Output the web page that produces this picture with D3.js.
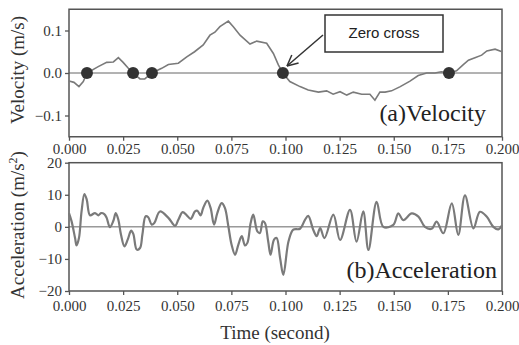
<!DOCTYPE html>
<html><head><meta charset="utf-8">
<script src="https://cdn.jsdelivr.net/npm/d3@7/dist/d3.min.js"></script>
<style>body{margin:0;background:#fff}svg{display:block}</style>
</head><body>
<svg id="c" width="519" height="345"></svg>
<script>
const xTicks = [0.000, 0.025, 0.050, 0.075, 0.100, 0.125, 0.150, 0.175, 0.200];
const vTicks = [-0.1, 0.0, 0.1];
const aTicks = [-20, -10, 0, 10, 20];

const timeV = [0,0.0023,0.0046,0.0066,0.0083,0.0135,0.0174,0.0205,0.0228,0.025,0.0274,0.0296,0.0328,0.035,0.0383,0.0428,0.0459,0.0505,0.0544,0.058,0.062,0.0651,0.0674,0.0697,0.0736,0.0759,0.079,0.0836,0.0867,0.0913,0.0944,0.0967,0.0988,0.102,0.1067,0.1105,0.1152,0.119,0.122,0.1252,0.1283,0.1313,0.1352,0.139,0.1413,0.1436,0.146,0.149,0.153,0.1575,0.1613,0.1652,0.169,0.172,0.1755,0.179,0.182,0.1845,0.1875,0.1906,0.193,0.1968,0.2];
const velocity = [-0.019,-0.022,-0.032,-0.02,0,0.015,0.025,0.026,0.036,0.025,0.011,0,-0.014,-0.014,0,0.011,0.02,0.023,0.038,0.05,0.066,0.089,0.096,0.109,0.122,0.109,0.089,0.068,0.075,0.07,0.046,0.019,0,-0.02,-0.032,-0.04,-0.045,-0.042,-0.05,-0.044,-0.052,-0.045,-0.05,-0.05,-0.064,-0.045,-0.045,-0.042,-0.032,-0.019,-0.006,0,0,0.003,0,0.005,0.019,0.03,0.036,0.042,0.052,0.056,0.05];

const timeA = [0,0.0012,0.0028,0.0035,0.0046,0.0058,0.0071,0.0082,0.0097,0.012,0.0136,0.0148,0.0163,0.0174,0.0189,0.0205,0.0216,0.0228,0.024,0.0256,0.0271,0.0287,0.0297,0.0313,0.0328,0.0339,0.0354,0.0366,0.0382,0.0394,0.042,0.0459,0.049,0.0505,0.0525,0.0544,0.0562,0.0582,0.0593,0.0608,0.062,0.0639,0.0654,0.067,0.0685,0.0705,0.072,0.0736,0.0751,0.0767,0.0782,0.0798,0.0813,0.0824,0.0839,0.0851,0.087,0.0882,0.0895,0.0905,0.092,0.0931,0.0947,0.0959,0.0975,0.099,0.1014,0.1036,0.1067,0.109,0.1105,0.1128,0.1144,0.116,0.118,0.1221,0.1252,0.1298,0.1328,0.1359,0.1383,0.1421,0.1452,0.1498,0.1521,0.1544,0.1583,0.1614,0.1644,0.1675,0.1698,0.1729,0.1768,0.1798,0.1829,0.1868,0.1898,0.1929,0.196,0.1983,0.2];
const acceleration = [4.3,1.7,-3.5,-5.8,-3.5,4.8,10.2,8.5,3.6,4.3,3.6,4.3,4.0,2.8,-0.1,1.9,4.3,2.2,-2.4,-6.1,-4.0,-1.2,-2.2,-7.1,-6.6,-2.4,3.3,3.0,0.7,1.2,4.8,2.8,0.3,2.2,4.6,3.6,2.5,4.8,5.0,3.6,5.9,8.2,5.9,0.7,4.3,7.4,5.9,0.2,-5.6,-8.7,-5.6,-2.9,-5.8,-5.0,1.2,3.8,-1.4,-1.9,1.7,1.2,-4.5,-8.7,-4.0,-3.5,-9.7,-15,-4.5,-0.9,-0.6,2.2,3.4,-0.9,-2.9,-0.4,-3.5,3.8,-4.1,5.3,-4.6,4.8,-7.2,7.8,0,0.6,4.2,2.1,4.2,3.2,0,-0.6,1.6,-2.0,7.3,-2.5,9.8,-0.5,4.7,3.2,0,-0.8,0.5];

const zeroCrossT = [0.0083, 0.0296, 0.0383, 0.0988, 0.1755];

const svg = d3.select('#c');
const L = 69, R = 502;
const x = d3.scaleLinear().domain([0, 0.2]).range([L, R]);
const yV = d3.scaleLinear().domain([-0.15, 0.15]).range([136.75, 9.25]);
const yA = d3.scaleLinear().domain([-20, 20]).range([291, 162.7]);
const serif = '"Liberation Serif","Times New Roman",serif';
const frameCol = '#555';
const textCol = '#333';

function panel(y, yTicks, fmt, xPad) {
  const g = svg.append('g');
  const [b, t] = y.range();
  const xa = g.append('g').attr('transform', `translate(0,${b})`)
    .call(d3.axisBottom(x).tickValues(xTicks).tickSize(4).tickPadding(xPad).tickFormat(d3.format('.3f')));
  const ya = g.append('g').attr('transform', `translate(${L},0)`)
    .call(d3.axisLeft(y).tickValues(yTicks).tickSize(4).tickPadding(3).tickFormat(fmt));
  [xa, ya].forEach(a => {
    a.attr('font-family', serif).attr('font-size', 15);
    a.select('.domain').remove();
    a.selectAll('line').attr('stroke', frameCol).attr('stroke-width', 1.3);
    a.selectAll('text').attr('fill', textCol);
  });
  g.append('line').attr('x1', L).attr('x2', R).attr('y1', y(0)).attr('y2', y(0))
    .attr('stroke', '#666').attr('stroke-width', 1);
  g.append('rect').attr('x', L).attr('y', t).attr('width', R - L).attr('height', b - t)
    .attr('fill', 'none').attr('stroke', frameCol).attr('stroke-width', 1.5);
  return g;
}

const minusFmt = f => d => f(d).replace('-', '\u2212');
const gV = panel(yV, vTicks, minusFmt(d3.format('.1f')), 3);
const gA = panel(yA, aTicks, minusFmt(d3.format('d')), 5);

gV.append('path')
  .datum(timeV.map((t, i) => [t, velocity[i]]))
  .attr('fill', 'none').attr('stroke', '#7a7a7a').attr('stroke-width', 1.6)
  .attr('d', d3.line().x(d => x(d[0])).y(d => yV(d[1])));

gV.selectAll('circle').data(zeroCrossT).join('circle')
  .attr('cx', d => x(d)).attr('cy', yV(0)).attr('r', 6).attr('fill', '#333');

gA.append('path')
  .datum(timeA.map((t, i) => [t, acceleration[i]]))
  .attr('fill', 'none').attr('stroke', '#7a7a7a').attr('stroke-width', 2.2)
  .attr('d', d3.line().curve(d3.curveCatmullRom.alpha(0.5)).x(d => x(d[0])).y(d => yA(d[1])));

gV.append('text').attr('x', 486).attr('y', 121).attr('text-anchor', 'end')
  .attr('font-family', serif).attr('font-size', 24).attr('fill', '#222').text('(a)Velocity');
gA.append('text').attr('x', 497).attr('y', 278).attr('text-anchor', 'end')
  .attr('font-family', serif).attr('font-size', 24).attr('fill', '#222').text('(b)Acceleration');

const ann = svg.append('g');
ann.append('rect').attr('x', 325).attr('y', 15).attr('width', 118).attr('height', 37)
  .attr('fill', '#fff').attr('stroke', '#333').attr('stroke-width', 1.5);
ann.append('text').attr('x', 384).attr('y', 38).attr('text-anchor', 'middle')
  .attr('font-family', '"Liberation Sans",Arial,sans-serif').attr('font-size', 15)
  .attr('fill', '#222').text('Zero cross');
const ax1 = 323, ay1 = 35, ax2 = 287, ay2 = 66;
ann.append('line').attr('x1', ax1).attr('y1', ay1).attr('x2', ax2).attr('y2', ay2)
  .attr('stroke', '#333').attr('stroke-width', 1.5);
const ang = Math.atan2(ay1 - ay2, ax1 - ax2);
[0.45, -0.45].forEach(da => {
  ann.append('line').attr('x1', ax2).attr('y1', ay2)
    .attr('x2', ax2 + 12 * Math.cos(ang + da)).attr('y2', ay2 + 12 * Math.sin(ang + da))
    .attr('stroke', '#333').attr('stroke-width', 1.5);
});

svg.append('text').attr('transform', 'translate(24,70) rotate(-90)').attr('text-anchor', 'middle')
  .attr('font-family', serif).attr('font-size', 19).attr('fill', textCol).text('Velocity (m/s)');
const at = svg.append('text').attr('transform', 'translate(24,225) rotate(-90)').attr('text-anchor', 'middle')
  .attr('font-family', serif).attr('font-size', 19).attr('fill', textCol);
at.append('tspan').text('Acceleration (m/s');
at.append('tspan').attr('dy', -7).attr('font-size', 12).text('2');
at.append('tspan').attr('dy', 7).text(')');
svg.append('text').attr('x', 275).attr('y', 339).attr('text-anchor', 'middle')
  .attr('font-family', serif).attr('font-size', 19).attr('fill', textCol).text('Time (second)');
</script>
</body></html>
